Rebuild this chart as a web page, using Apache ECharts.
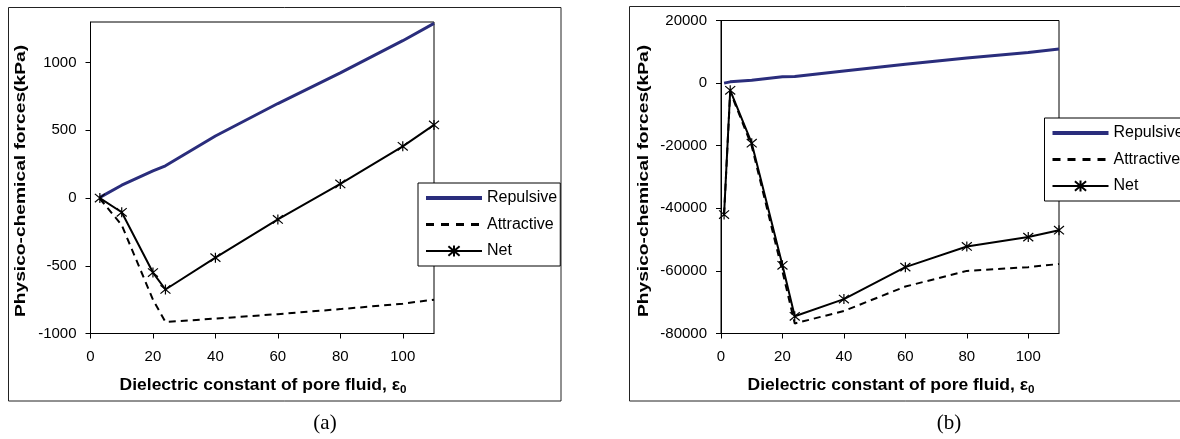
<!DOCTYPE html>
<html>
<head>
<meta charset="utf-8">
<script src="https://cdn.jsdelivr.net/npm/echarts@6/dist/echarts.min.js"></script>
<style>
html,body{margin:0;padding:0;background:#fff;}
#c{width:1180px;height:439px;}
</style>
</head>
<body>
<div id="c"></div>
<script>
// ---- data ----
const seriesNames = ['Repulsive', 'Attractive', 'Net'];
// chart (a)
const xA = [3, 10, 20, 24, 40, 60, 80, 100, 110];
const repulsiveA = [5, 95, 200, 238, 458, 698, 924, 1162, 1290];
const attractiveA = [-5, -200, -750, -915, -890, -857, -820, -780, -750];
const netA = [0, -105, -550, -675, -440, -158, 104, 382, 540];
const yTicksA = [-1000, 1300, 500];   // min, max, interval
// chart (b)
const xB = [1, 3, 10, 20, 24, 40, 60, 80, 100, 110];
const repulsiveB = [0, 400, 900, 2000, 2100, 3900, 6000, 8000, 9800, 10900];
const attractiveB = [-42000, -2700, -20100, -60200, -76800, -72800, -65000, -60000, -58800, -57800];
const netB = [-42000, -2300, -19200, -58200, -74500, -69000, -58800, -52200, -49200, -47000];
const yTicksB = [-80000, 20000, 20000];
const xTicks = [0, 110, 20];
const xTitle = 'Dielectric constant of pore fluid, ε';
const xTitleSub = '0';
const yTitle = 'Physico-chemical forces(kPa)';
const captions = ['(a)', '(b)'];

// ---- styling ----
const FONT = 'Liberation Sans, Arial, sans-serif';
const NAVY = '#2a2d7c';
const STAR = 'path://M0,0L10,10M10,0L0,10M5,-1L5,11';
const pair = (xs, ys) => xs.map((x, i) => [x, ys[i]]);
const plain = v => String(v);

function xAxisFor(gi) {
  return {
    type: 'value', gridIndex: gi, min: xTicks[0], max: xTicks[1], interval: xTicks[2],
    axisLine: {onZero: false, lineStyle: {color: '#000', width: 1}},
    axisTick: {length: 5, lineStyle: {color: '#000'}},
    axisLabel: {color: '#000', fontSize: 15, fontFamily: FONT, margin: 16, showMaxLabel: false, formatter: plain},
    splitLine: {show: false}
  };
}
function yAxisFor(gi, t) {
  return {
    type: 'value', gridIndex: gi, min: t[0], max: t[1], interval: t[2],
    axisLine: {show: true, lineStyle: {color: '#000', width: 1}},
    axisTick: {show: true, length: 5, lineStyle: {color: '#000'}},
    axisLabel: {color: '#000', fontSize: 15, fontFamily: FONT, margin: 14, showMaxLabel: t[1] % t[2] === 0, formatter: plain},
    splitLine: {show: false}
  };
}
function seriesFor(gi, xs, rep, att, net) {
  return [
    {name: seriesNames[0], type: 'line', xAxisIndex: gi, yAxisIndex: gi, data: pair(xs, rep),
     symbol: 'none', lineStyle: {color: NAVY, width: 3}, itemStyle: {color: NAVY}, animation: false},
    {name: seriesNames[1], type: 'line', xAxisIndex: gi, yAxisIndex: gi, data: pair(xs, att),
     symbol: 'none', lineStyle: {color: '#000', width: 2, type: [7, 5]}, itemStyle: {color: '#000'}, animation: false},
    {name: seriesNames[2], type: 'line', xAxisIndex: gi, yAxisIndex: gi, data: pair(xs, net),
     symbol: STAR, symbolSize: 10, showAllSymbol: true,
     lineStyle: {color: '#000', width: 2}, itemStyle: {color: '#000', borderColor: '#000', borderWidth: 1.2}, animation: false}
  ];
}
function legendFor(left, top) {
  return {
    left: left, top: top, orient: 'vertical', selectedMode: false,
    backgroundColor: '#fff', borderColor: '#000', borderWidth: 1, borderRadius: 0,
    padding: [7, 3, 7, 6], itemWidth: 56, itemHeight: 14, itemGap: 10.5, itemTextGap: 3,
    textStyle: {fontSize: 16, fontFamily: FONT, color: '#000', lineHeight: 16},
    data: [
      {name: seriesNames[0], itemStyle: {opacity: 0}, lineStyle: {color: NAVY, width: 4}},
      {name: seriesNames[1], itemStyle: {opacity: 0}, lineStyle: {color: '#000', width: 3, type: [8, 7]}},
      {name: seriesNames[2], lineStyle: {color: '#000', width: 2}}
    ]
  };
}
function xTitleText(cx, cy) {
  return {type: 'text', x: cx, y: cy, scaleX: 1.06,
    style: {text: '{a|' + xTitle + '}{s|' + xTitleSub + '}', align: 'center', verticalAlign: 'middle',
      rich: {
        a: {font: 'bold 16.5px ' + FONT, fill: '#000', lineHeight: 20},
        s: {font: 'bold 11px ' + FONT, fill: '#000', lineHeight: 12, verticalAlign: 'bottom'}
      }}};
}
function yTitleText(cx, cy) {
  return {type: 'text', x: cx, y: cy, rotation: Math.PI / 2, scaleX: 1.28,
    style: {text: yTitle, font: 'bold 15px ' + FONT, fill: '#000', align: 'center', verticalAlign: 'middle'}};
}

const chart = echarts.init(document.getElementById('c'), null, {renderer: 'canvas'});
chart.setOption({
  backgroundColor: '#fff',
  animation: false,
  grid: [
    {left: 90.5, top: 22, width: 343.5, height: 311.5, show: true, borderColor: '#000', borderWidth: 1},
    {left: 721, top: 20.5, width: 338, height: 313, show: true, borderColor: '#000', borderWidth: 1}
  ],
  xAxis: [xAxisFor(0), xAxisFor(1)],
  yAxis: [yAxisFor(0, yTicksA), yAxisFor(1, yTicksB)],
  legend: [legendFor(418, 183), legendFor(1044.5, 118)],
  series: [].concat(seriesFor(0, xA, repulsiveA, attractiveA, netA), seriesFor(1, xB, repulsiveB, attractiveB, netB)),
  graphic: [
    {type: 'rect', z: -1, shape: {x: 8.5, y: 7.5, width: 552.5, height: 393.5}, style: {fill: 'none', stroke: '#222', lineWidth: 1}},
    {type: 'rect', z: -1, shape: {x: 629.5, y: 6.5, width: 600, height: 394.5}, style: {fill: 'none', stroke: '#222', lineWidth: 1}},
    xTitleText(263, 385), xTitleText(891, 385),
    yTitleText(21, 181), yTitleText(644, 181),
    {type: 'text', x: 325, y: 423, style: {text: captions[0], font: '21px "Liberation Serif", "Times New Roman", serif', fill: '#000', align: 'center', verticalAlign: 'middle'}},
    {type: 'text', x: 949, y: 423, style: {text: captions[1], font: '21px "Liberation Serif", "Times New Roman", serif', fill: '#000', align: 'center', verticalAlign: 'middle'}}
  ]
});
</script>
</body>
</html>
